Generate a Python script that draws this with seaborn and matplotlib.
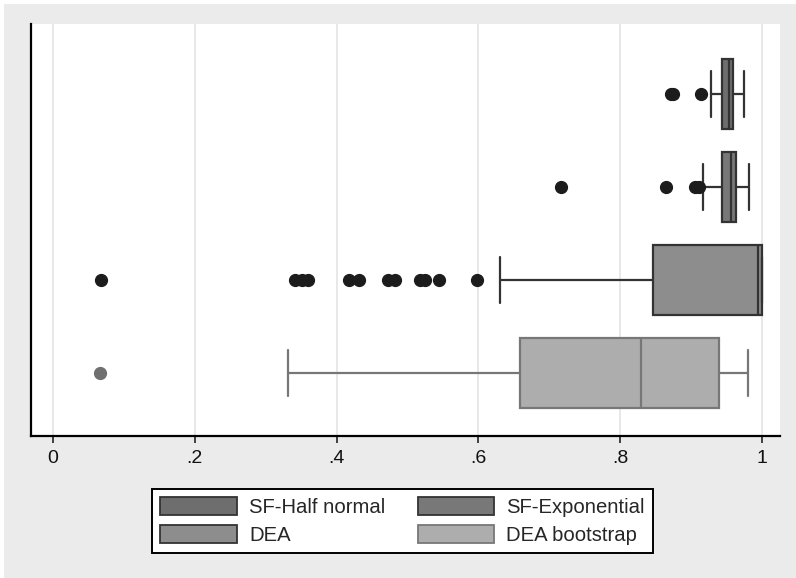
import numpy as np
import pandas as pd
import seaborn as sns
import matplotlib.pyplot as plt
from matplotlib.patches import Patch, Rectangle

# Efficiency scores, one list per method
methods = ['SF-Half normal', 'SF-Exponential', 'DEA', 'DEA bootstrap']

sf_half_normal = [0.871, 0.875, 0.914, 0.928,
                  0.930, 0.932, 0.934, 0.936, 0.938, 0.939, 0.940, 0.942, 0.943,
                  0.944,
                  0.945, 0.946, 0.947, 0.948, 0.948, 0.949, 0.950, 0.951, 0.951, 0.952, 0.953, 0.953,
                  0.954,
                  0.954, 0.955, 0.955, 0.955, 0.956, 0.956, 0.957, 0.957, 0.957, 0.958, 0.958, 0.958,
                  0.959,
                  0.960, 0.961, 0.962, 0.963, 0.964, 0.965, 0.966, 0.967, 0.968, 0.970, 0.971, 0.973, 0.975]

sf_exponential = [0.717, 0.864, 0.906, 0.911, 0.917,
                  0.920, 0.925, 0.929, 0.932, 0.935, 0.938, 0.940, 0.942,
                  0.944,
                  0.945, 0.946, 0.947, 0.948, 0.949, 0.950, 0.951, 0.952, 0.953, 0.954, 0.955, 0.955,
                  0.956,
                  0.957, 0.957, 0.958, 0.958, 0.959, 0.959, 0.960, 0.960, 0.961, 0.961, 0.962, 0.962,
                  0.963,
                  0.964, 0.965, 0.966, 0.967, 0.968, 0.970, 0.971, 0.973, 0.975, 0.977, 0.979, 0.981, 0.982]

dea = [0.068, 0.341, 0.351, 0.360, 0.417, 0.431, 0.473, 0.482, 0.518, 0.525, 0.544, 0.598, 0.631,
       0.846,
       0.852, 0.868, 0.879, 0.894, 0.905, 0.921, 0.934, 0.948, 0.959, 0.971, 0.982, 0.990,
       0.995,
       0.996, 0.997, 0.998, 0.999, 1.0, 1.0, 1.0, 1.0, 1.0, 1.0, 1.0, 1.0,
       1.0,
       1.0, 1.0, 1.0, 1.0, 1.0, 1.0, 1.0, 1.0, 1.0, 1.0, 1.0, 1.0, 1.0]

dea_bootstrap = [0.067, 0.332,
                 0.368, 0.402, 0.437, 0.468, 0.497, 0.521, 0.548, 0.573, 0.598, 0.622, 0.645,
                 0.659,
                 0.671, 0.684, 0.698, 0.712, 0.726, 0.741, 0.755, 0.768, 0.782, 0.796, 0.809, 0.818,
                 0.829,
                 0.836, 0.845, 0.853, 0.862, 0.871, 0.880, 0.889, 0.898, 0.907, 0.916, 0.925, 0.933,
                 0.940,
                 0.943, 0.946, 0.949, 0.952, 0.955, 0.958, 0.961, 0.964, 0.967, 0.970, 0.973, 0.977, 0.980]

tick_values = [0, 0.2, 0.4, 0.6, 0.8, 1]
tick_labels = ['0', '.2', '.4', '.6', '.8', '1']

fill_colors = ['#6e6e6e', '#787878', '#8d8d8d', '#adadad']
edge_colors = ['#333333', '#333333', '#333333', '#777777']
flier_colors = ['#1c1c1c', '#1c1c1c', '#1c1c1c', '#707070']

# Long format frame
series = [sf_half_normal, sf_exponential, dea, dea_bootstrap]
df = pd.DataFrame({'method': np.repeat(methods, [len(s) for s in series]),
                   'score': np.concatenate(series)})

sns.set_style('white')
plt.rcParams['font.family'] = ['Liberation Sans', 'DejaVu Sans']

fig = plt.figure(figsize=(7.96, 5.78), dpi=100, facecolor='#ebebeb')
# thin white strip on the top and left edges
fig.patches.append(Rectangle((0, 1 - 4 / 578), 1, 4 / 578, transform=fig.transFigure,
                             facecolor='white', edgecolor='none', zorder=-1))
fig.patches.append(Rectangle((0, 0), 4 / 796, 1, transform=fig.transFigure,
                             facecolor='white', edgecolor='none', zorder=-1))

ax = fig.add_axes([31 / 796, 1 - 436 / 578, (780 - 31) / 796, (436 - 24) / 578])
ax.set_facecolor('white')

# One call per method so each box gets its own grey shades
for m, fc, ec, flc in zip(methods, fill_colors, edge_colors, flier_colors):
    sns.boxplot(data=df[df['method'] == m], x='score', y='method', order=methods,
                color=fc, linecolor=ec, linewidth=1.6, width=0.75, saturation=1,
                whis=1.5, capwidths=0.5,
                flierprops=dict(marker='o', markersize=8.5, markerfacecolor=flc,
                                markeredgecolor=flc),
                ax=ax)

ax.set_xlim(-0.031, 1.0254)
ax.set_ylim(3.677, -0.753)
ax.set_xticks(tick_values)
ax.set_xticklabels(tick_labels)
ax.set_yticks([])
ax.set_xlabel('')
ax.set_ylabel('')

ax.xaxis.grid(True, color='#e4e4e4', linewidth=1.2)
ax.set_axisbelow(True)
for side in ['top', 'right']:
    ax.spines[side].set_visible(False)
for side in ['left', 'bottom']:
    ax.spines[side].set_color('black')
    ax.spines[side].set_linewidth(1.6)
ax.tick_params(axis='x', direction='out', length=5, width=1.3, color='#333333',
               labelsize=14, labelcolor='#111111', pad=5, bottom=True)

# Legend
handles = [Patch(facecolor=fc, edgecolor=ec, linewidth=1.3)
           for fc, ec in zip(fill_colors, edge_colors)]
order = [0, 2, 1, 3]
leg = fig.legend([handles[i] for i in order], [methods[i] for i in order],
                 ncol=2, loc='center', bbox_to_anchor=(0.5057, 0.0986),
                 frameon=True, fancybox=False, edgecolor='black', framealpha=1,
                 handlelength=3.78, handleheight=1.0, handletextpad=0.6,
                 columnspacing=1.6, labelspacing=0.4, borderpad=0.4,
                 fontsize=14.6)
leg.get_frame().set_linewidth(1.4)

plt.savefig('out.png', dpi=100, facecolor=fig.get_facecolor())
